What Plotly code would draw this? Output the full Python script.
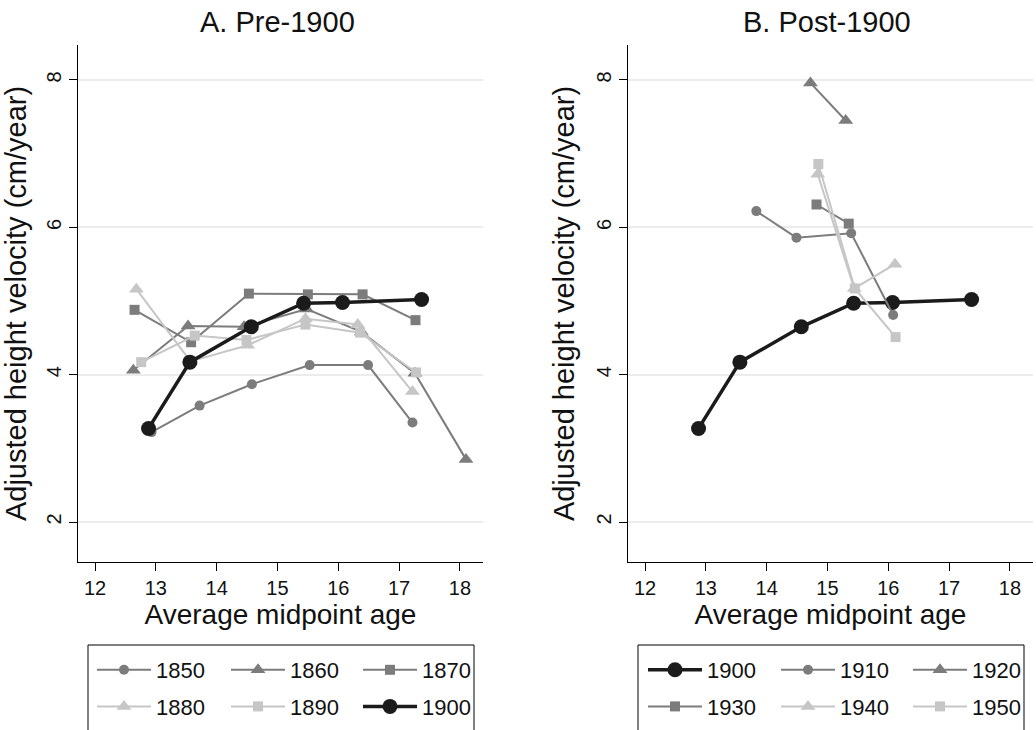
import plotly.graph_objects as go

# ---------------- data ----------------
age_1850 = [12.93, 13.72, 14.58, 15.53, 16.49, 17.22]
vel_1850 = [3.22, 3.58, 3.87, 4.13, 4.13, 3.35]

age_1860 = [12.63, 13.53, 14.45, 15.48, 16.38, 17.26, 18.10]
vel_1860 = [4.06, 4.66, 4.65, 4.89, 4.58, 4.02, 2.85]

age_1870 = [12.65, 13.58, 14.53, 15.50, 16.40, 17.27]
vel_1870 = [4.88, 4.44, 5.10, 5.09, 5.09, 4.74]

age_1880 = [12.68, 13.57, 14.51, 15.46, 16.32, 17.22]
vel_1880 = [5.16, 4.18, 4.40, 4.76, 4.68, 3.77]

age_1890 = [12.76, 13.64, 14.49, 15.46, 16.36, 17.28]
vel_1890 = [4.17, 4.53, 4.47, 4.68, 4.57, 4.03]

age_1900 = [12.88, 13.56, 14.57, 15.43, 16.07, 17.37]
vel_1900 = [3.27, 4.17, 4.65, 4.97, 4.98, 5.02]

age_1910 = [13.83, 14.49, 15.39, 16.08]
vel_1910 = [6.22, 5.86, 5.92, 4.81]

age_1920 = [14.72, 15.30]
vel_1920 = [7.96, 7.45]

age_1930 = [14.82, 15.35]
vel_1930 = [6.31, 6.05]

age_1940 = [14.84, 15.44, 16.11]
vel_1940 = [6.72, 5.17, 5.50]

age_1950 = [14.85, 15.45, 16.12]
vel_1950 = [6.86, 5.17, 4.51]

x_ticks = [12, 13, 14, 15, 16, 17, 18]
y_ticks = [2, 4, 6, 8]
panel_titles = ["A. Pre-1900", "B. Post-1900"]
x_title = "Average midpoint age"
y_title = "Adjusted height velocity (cm/year)"

# ---------------- styles ----------------
DARK = "#7c7c7c"
LIGHT = "#c6c6c6"
BLACK = "#1b1b1b"
FONT = "Liberation Sans, Arial, Helvetica, sans-serif"

W, H = 1036, 730

def style(kind):
    if kind == "black":
        return dict(line=dict(color=BLACK, width=3.5), marker=dict(symbol="circle", size=15, color=BLACK))
    color, sym = kind
    size = {"circle": 10, "triangle-up": 13, "square": 10}[sym]
    return dict(line=dict(color=color, width=2), marker=dict(symbol=sym, size=size, color=color))

# legend columns: left panel -> legend, legend2, legend3 ; right panel -> legend4..legend6
left_series = [
    ("1850", age_1850, vel_1850, (DARK, "circle"), "legend"),
    ("1860", age_1860, vel_1860, (DARK, "triangle-up"), "legend2"),
    ("1870", age_1870, vel_1870, (DARK, "square"), "legend3"),
    ("1880", age_1880, vel_1880, (LIGHT, "triangle-up"), "legend"),
    ("1890", age_1890, vel_1890, (LIGHT, "square"), "legend2"),
    ("1900", age_1900, vel_1900, "black", "legend3"),
]
right_series = [
    ("1900", age_1900, vel_1900, "black", "legend4"),
    ("1910", age_1910, vel_1910, (DARK, "circle"), "legend5"),
    ("1920", age_1920, vel_1920, (DARK, "triangle-up"), "legend6"),
    ("1930", age_1930, vel_1930, (DARK, "square"), "legend4"),
    ("1940", age_1940, vel_1940, (LIGHT, "triangle-up"), "legend5"),
    ("1950", age_1950, vel_1950, (LIGHT, "square"), "legend6"),
]

fig = go.Figure()
for name, x, y, kind, leg in left_series:
    fig.add_trace(go.Scatter(x=x, y=y, name=name, mode="lines+markers", legendgroup="L" + name,
                             xaxis="x", yaxis="y", legend=leg, **style(kind)))
for name, x, y, kind, leg in right_series:
    fig.add_trace(go.Scatter(x=x, y=y, name=name, mode="lines+markers", legendgroup="R" + name,
                             xaxis="x2", yaxis="y2", legend=leg, **style(kind)))

xdom1 = [78 / W, 483 / W]
xdom2 = [628 / W, 1033 / W]
ydom = [1 - 562 / H, 1 - 45 / H]

xcommon = dict(range=[11.72, 18.38], tickvals=x_ticks, ticks="outside", ticklen=8,
               tickwidth=1, tickcolor="black", showline=True, linecolor="black",
               linewidth=1, showgrid=False, zeroline=False,
               tickfont=dict(family=FONT, size=20, color="#111"),
               title=dict(text=x_title, font=dict(family=FONT, size=28, color="#111"), standoff=4))
ycommon = dict(range=[1.457, 8.475], tickvals=y_ticks, ticks="outside", ticklen=8,
               tickwidth=1, tickcolor="black", showline=True, linecolor="black",
               linewidth=1, showgrid=True, gridcolor="#ececec", gridwidth=1.5,
               zeroline=False, tickangle=-90,
               tickfont=dict(family=FONT, size=20, color="#111"),
               title=dict(text=y_title, font=dict(family=FONT, size=29, color="#111"), standoff=9))

legcommon = dict(orientation="v", xanchor="left", yanchor="middle", bgcolor="rgba(0,0,0,0)",
                 borderwidth=0, itemwidth=54, tracegroupgap=5,
                 font=dict(family=FONT, size=22, color="#111"))
leg_y = 1 - 688.5 / H
col_x_left = [92, 226, 358]
col_x_right = [643, 776, 908]

fig.update_layout(
    width=W, height=H,
    margin=dict(l=0, r=0, t=0, b=0),
    paper_bgcolor="white", plot_bgcolor="white",
    font=dict(family=FONT, color="#111"),
    xaxis=dict(domain=xdom1, anchor="y", automargin=False, **xcommon),
    yaxis=dict(domain=ydom, anchor="x", automargin=False, **ycommon),
    xaxis2=dict(domain=xdom2, anchor="y2", automargin=False, **xcommon),
    yaxis2=dict(domain=ydom, anchor="x2", automargin=False, **ycommon),
    legend=dict(x=col_x_left[0] / W, y=leg_y, **legcommon),
    legend2=dict(x=col_x_left[1] / W, y=leg_y, **legcommon),
    legend3=dict(x=col_x_left[2] / W, y=leg_y, **legcommon),
    legend4=dict(x=col_x_right[0] / W, y=leg_y, **legcommon),
    legend5=dict(x=col_x_right[1] / W, y=leg_y, **legcommon),
    legend6=dict(x=col_x_right[2] / W, y=leg_y, **legcommon),
    annotations=[
        dict(text=panel_titles[0], x=277 / W, y=1 - 22 / H, xref="paper", yref="paper",
             showarrow=False, font=dict(family=FONT, size=29, color="#111"), xanchor="center", yanchor="middle"),
        dict(text=panel_titles[1], x=827 / W, y=1 - 22 / H, xref="paper", yref="paper",
             showarrow=False, font=dict(family=FONT, size=29, color="#111"), xanchor="center", yanchor="middle"),
    ],
    shapes=[
        dict(type="rect", xref="paper", yref="paper", x0=88 / W, x1=474 / W, y0=-0.05, y1=1 - 645 / H,
             line=dict(color="black", width=1), fillcolor="rgba(0,0,0,0)"),
        dict(type="rect", xref="paper", yref="paper", x0=638 / W, x1=1024 / W, y0=-0.05, y1=1 - 645 / H,
             line=dict(color="black", width=1), fillcolor="rgba(0,0,0,0)"),
    ],
)

fig.write_html("out.html", config={"displayModeBar": False},
               post_script="document.body.style.margin='0';document.body.style.overflow='hidden';")
